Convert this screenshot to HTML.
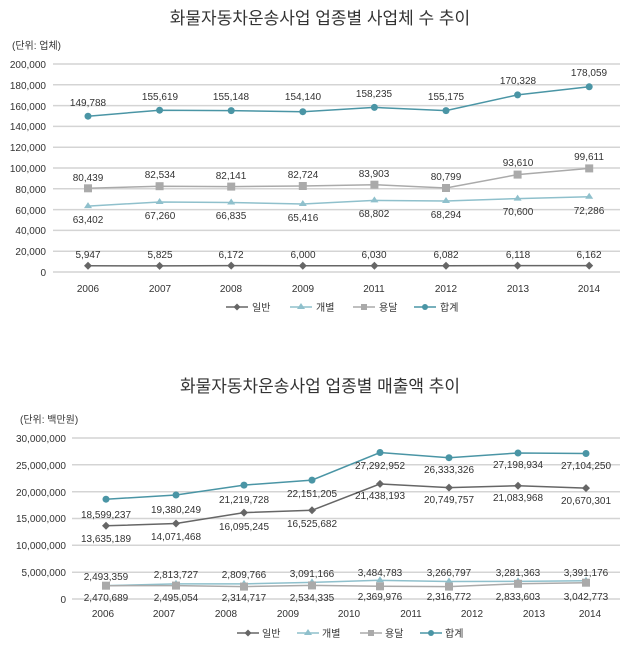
<!DOCTYPE html><html><head><meta charset="utf-8"><style>body{margin:0;background:#fff}svg{display:block}text{font-family:"Liberation Sans","Noto Sans CJK KR",sans-serif;fill:#333}</style></head><body>
<svg width="640" height="647" viewBox="0 0 640 647" xmlns="http://www.w3.org/2000/svg">
<text x="320" y="24" font-size="17" text-anchor="middle" fill="#222">화물자동차운송사업 업종별 사업체 수 추이</text>
<text x="12" y="49" font-size="10" fill="#444">(단위: 업체)</text>
<g stroke="#d4d4d4" stroke-width="1.5">
<line x1="53" x2="620" y1="64" y2="64"/><line x1="53" x2="620" y1="84.8" y2="84.8"/><line x1="53" x2="620" y1="105.6" y2="105.6"/><line x1="53" x2="620" y1="126.4" y2="126.4"/><line x1="53" x2="620" y1="147.2" y2="147.2"/><line x1="53" x2="620" y1="168" y2="168"/><line x1="53" x2="620" y1="188.8" y2="188.8"/><line x1="53" x2="620" y1="209.6" y2="209.6"/><line x1="53" x2="620" y1="230.4" y2="230.4"/><line x1="53" x2="620" y1="251.2" y2="251.2"/><line x1="53" x2="620" y1="272" y2="272"/></g>
<g font-size="10" text-anchor="end" fill="#444">
<text x="46" y="68">200,000</text><text x="46" y="89">180,000</text><text x="46" y="110">160,000</text><text x="46" y="130">140,000</text><text x="46" y="151">120,000</text><text x="46" y="172">100,000</text><text x="46" y="193">80,000</text><text x="46" y="214">60,000</text><text x="46" y="234">40,000</text><text x="46" y="255">20,000</text><text x="46" y="276">0</text></g>
<g font-size="10" text-anchor="middle"><text x="88" y="292">2006</text><text x="160" y="292">2007</text><text x="231" y="292">2008</text><text x="303" y="292">2009</text><text x="374" y="292">2011</text><text x="446" y="292">2012</text><text x="518" y="292">2013</text><text x="589" y="292">2014</text></g>
<polyline fill="none" stroke="#4a95a5" stroke-width="1.5" points="88,116.2 159.6,110.2 231.2,110.6 302.8,111.7 374.4,107.4 446,110.6 517.6,94.9 589.2,86.8"/>
<g fill="#4a95a5"><circle cx="88" cy="116.2" r="3.5"/><circle cx="159.6" cy="110.2" r="3.5"/><circle cx="231.2" cy="110.6" r="3.5"/><circle cx="302.8" cy="111.7" r="3.5"/><circle cx="374.4" cy="107.4" r="3.5"/><circle cx="446" cy="110.6" r="3.5"/><circle cx="517.6" cy="94.9" r="3.5"/><circle cx="589.2" cy="86.8" r="3.5"/></g>
<polyline fill="none" stroke="#aaa" stroke-width="1.5" points="88,188.3 159.6,186.2 231.2,186.6 302.8,186 374.4,184.7 446,188 517.6,174.6 589.2,168.4"/>
<g fill="#aaa"><rect x="84" y="184.3" width="8" height="8"/><rect x="155.6" y="182.2" width="8" height="8"/><rect x="227.2" y="182.6" width="8" height="8"/><rect x="298.8" y="182" width="8" height="8"/><rect x="370.4" y="180.7" width="8" height="8"/><rect x="442" y="184" width="8" height="8"/><rect x="513.6" y="170.6" width="8" height="8"/><rect x="585.2" y="164.4" width="8" height="8"/></g>
<polyline fill="none" stroke="#8fc0cc" stroke-width="1.5" points="88,206.1 159.6,202 231.2,202.5 302.8,204 374.4,200.4 446,201 517.6,198.6 589.2,196.8"/>
<g fill="#8fc0cc"><path d="M88,202.1l4,6h-8z"/><path d="M159.6,198l4,6h-8z"/><path d="M231.2,198.5l4,6h-8z"/><path d="M302.8,200l4,6h-8z"/><path d="M374.4,196.4l4,6h-8z"/><path d="M446,197l4,6h-8z"/><path d="M517.6,194.6l4,6h-8z"/><path d="M589.2,192.8l4,6h-8z"/></g>
<polyline fill="none" stroke="#666" stroke-width="1.5" points="88,265.8 159.6,265.9 231.2,265.6 302.8,265.8 374.4,265.7 446,265.7 517.6,265.6 589.2,265.6"/>
<g fill="#666"><path d="M88,261.8l4,4-4,4-4-4z"/><path d="M159.6,261.9l4,4-4,4-4-4z"/><path d="M231.2,261.6l4,4-4,4-4-4z"/><path d="M302.8,261.8l4,4-4,4-4-4z"/><path d="M374.4,261.7l4,4-4,4-4-4z"/><path d="M446,261.7l4,4-4,4-4-4z"/><path d="M517.6,261.6l4,4-4,4-4-4z"/><path d="M589.2,261.6l4,4-4,4-4-4z"/></g>
<g font-size="10" text-anchor="middle">
<text x="88" y="106">149,788</text><text x="160" y="100">155,619</text><text x="231" y="100">155,148</text><text x="303" y="100">154,140</text><text x="374" y="97">158,235</text><text x="446" y="100">155,175</text><text x="518" y="84">170,328</text><text x="589" y="76">178,059</text>
<text x="88" y="181">80,439</text><text x="160" y="178">82,534</text><text x="231" y="179">82,141</text><text x="303" y="178">82,724</text><text x="374" y="177">83,903</text><text x="446" y="180">80,799</text><text x="518" y="166">93,610</text><text x="589" y="160">99,611</text>
<text x="88" y="223">63,402</text><text x="160" y="219">67,260</text><text x="231" y="219">66,835</text><text x="303" y="221">65,416</text><text x="374" y="217">68,802</text><text x="446" y="218">68,294</text><text x="518" y="215">70,600</text><text x="589" y="214">72,286</text>
<text x="88" y="258">5,947</text><text x="160" y="258">5,825</text><text x="231" y="258">6,172</text><text x="303" y="258">6,000</text><text x="374" y="258">6,030</text><text x="446" y="258">6,082</text><text x="518" y="258">6,118</text><text x="589" y="258">6,162</text></g>
<g font-size="10">
<line x1="226" x2="248" y1="307" y2="307" stroke="#666" stroke-width="1.5"/><path d="M237,303.5l3.5,3.5-3.5,3.5-3.5-3.5z" fill="#666"/><text x="252" y="311">일반</text>
<line x1="290" x2="312" y1="307" y2="307" stroke="#8fc0cc" stroke-width="1.5"/><path d="M301,303l4,6h-8z" fill="#8fc0cc"/><text x="316" y="311">개별</text>
<line x1="353" x2="375" y1="307" y2="307" stroke="#aaa" stroke-width="1.5"/><rect x="361" y="304" width="6" height="6" fill="#aaa"/><text x="379" y="311">용달</text>
<line x1="414" x2="436" y1="307" y2="307" stroke="#4a95a5" stroke-width="1.5"/><circle cx="425" cy="307" r="3" fill="#4a95a5"/><text x="440" y="311">합계</text></g>

<text x="320" y="392" font-size="17" text-anchor="middle" fill="#222">화물자동차운송사업 업종별 매출액 추이</text>
<text x="20" y="423" font-size="10" fill="#444">(단위: 백만원)</text>
<g stroke="#d4d4d4" stroke-width="1.5">
<line x1="72" x2="620" y1="438" y2="438"/><line x1="72" x2="620" y1="464.8" y2="464.8"/><line x1="72" x2="620" y1="491.7" y2="491.7"/><line x1="72" x2="620" y1="518.5" y2="518.5"/><line x1="72" x2="620" y1="545.3" y2="545.3"/><line x1="72" x2="620" y1="572.2" y2="572.2"/><line x1="72" x2="620" y1="599" y2="599"/></g>
<g font-size="10" text-anchor="end" fill="#444">
<text x="66" y="442">30,000,000</text><text x="66" y="469">25,000,000</text><text x="66" y="496">20,000,000</text><text x="66" y="522">15,000,000</text><text x="66" y="549">10,000,000</text><text x="66" y="576">5,000,000</text><text x="66" y="603">0</text></g>
<g font-size="10" text-anchor="middle"><text x="103" y="617">2006</text><text x="164" y="617">2007</text><text x="226" y="617">2008</text><text x="288" y="617">2009</text><text x="349" y="617">2010</text><text x="411" y="617">2011</text><text x="472" y="617">2012</text><text x="534" y="617">2013</text><text x="590" y="617">2014</text></g>
<polyline fill="none" stroke="#4a95a5" stroke-width="1.5" points="106,499.2 176,495 244,485.1 312,480.1 380,452.5 449,457.7 518,453 586,453.5"/>
<g fill="#4a95a5"><circle cx="106" cy="499.2" r="3.5"/><circle cx="176" cy="495" r="3.5"/><circle cx="244" cy="485.1" r="3.5"/><circle cx="312" cy="480.1" r="3.5"/><circle cx="380" cy="452.5" r="3.5"/><circle cx="449" cy="457.7" r="3.5"/><circle cx="518" cy="453" r="3.5"/><circle cx="586" cy="453.5" r="3.5"/></g>
<polyline fill="none" stroke="#666" stroke-width="1.5" points="106,525.8 176,523.5 244,512.6 312,510.3 380,483.9 449,487.6 518,485.8 586,488.1"/>
<g fill="#666"><path d="M106,521.8l4,4-4,4-4-4z"/><path d="M176,519.5l4,4-4,4-4-4z"/><path d="M244,508.6l4,4-4,4-4-4z"/><path d="M312,506.3l4,4-4,4-4-4z"/><path d="M380,479.9l4,4-4,4-4-4z"/><path d="M449,483.6l4,4-4,4-4-4z"/><path d="M518,481.8l4,4-4,4-4-4z"/><path d="M586,484.1l4,4-4,4-4-4z"/></g>
<polyline fill="none" stroke="#8fc0cc" stroke-width="1.5" points="106,585.6 176,583.9 244,583.9 312,582.4 380,580.3 449,581.5 518,581.4 586,580.8"/>
<polyline fill="none" stroke="#aaa" stroke-width="1.5" points="106,585.7 176,585.6 244,586.6 312,585.4 380,586.3 449,586.6 518,583.8 586,582.7"/>
<g fill="#8fc0cc"><path d="M106,581.6l4,6h-8z"/><path d="M176,579.9l4,6h-8z"/><path d="M244,579.9l4,6h-8z"/><path d="M312,578.4l4,6h-8z"/><path d="M380,576.3l4,6h-8z"/><path d="M449,577.5l4,6h-8z"/><path d="M518,577.4l4,6h-8z"/><path d="M586,576.8l4,6h-8z"/></g>
<g fill="#aaa"><rect x="102" y="581.7" width="8" height="8"/><rect x="172" y="581.6" width="8" height="8"/><rect x="240" y="582.6" width="8" height="8"/><rect x="308" y="581.4" width="8" height="8"/><rect x="376" y="582.3" width="8" height="8"/><rect x="445" y="582.6" width="8" height="8"/><rect x="514" y="579.8" width="8" height="8"/><rect x="582" y="578.7" width="8" height="8"/></g>
<g font-size="10" text-anchor="middle">
<text x="106" y="518">18,599,237</text><text x="176" y="513">19,380,249</text><text x="244" y="503">21,219,728</text><text x="312" y="497">22,151,205</text><text x="380" y="469">27,292,952</text><text x="449" y="473">26,333,326</text><text x="518" y="468">27,198,934</text><text x="586" y="469">27,104,250</text>
<text x="106" y="542">13,635,189</text><text x="176" y="540">14,071,468</text><text x="244" y="530">16,095,245</text><text x="312" y="527">16,525,682</text><text x="380" y="499">21,438,193</text><text x="449" y="503">20,749,757</text><text x="518" y="501">21,083,968</text><text x="586" y="504">20,670,301</text>
<text x="106" y="580">2,493,359</text><text x="176" y="578">2,813,727</text><text x="244" y="578">2,809,766</text><text x="312" y="577">3,091,166</text><text x="380" y="576">3,484,783</text><text x="449" y="576">3,266,797</text><text x="518" y="576">3,281,363</text><text x="586" y="576">3,391,176</text>
<text x="106" y="601">2,470,689</text><text x="176" y="601">2,495,054</text><text x="244" y="601">2,314,717</text><text x="312" y="601">2,534,335</text><text x="380" y="600">2,369,976</text><text x="449" y="600">2,316,772</text><text x="518" y="600">2,833,603</text><text x="586" y="600">3,042,773</text></g>
<g font-size="10">
<line x1="237" x2="259" y1="633" y2="633" stroke="#666" stroke-width="1.5"/><path d="M248,629.5l3.5,3.5-3.5,3.5-3.5-3.5z" fill="#666"/><text x="262" y="637">일반</text>
<line x1="297" x2="319" y1="633" y2="633" stroke="#8fc0cc" stroke-width="1.5"/><path d="M308,629l4,6h-8z" fill="#8fc0cc"/><text x="322" y="637">개별</text>
<line x1="360" x2="382" y1="633" y2="633" stroke="#aaa" stroke-width="1.5"/><rect x="368" y="630" width="6" height="6" fill="#aaa"/><text x="385" y="637">용달</text>
<line x1="420" x2="442" y1="633" y2="633" stroke="#4a95a5" stroke-width="1.5"/><circle cx="431" cy="633" r="3" fill="#4a95a5"/><text x="445" y="637">합계</text></g>
</svg></body></html>
